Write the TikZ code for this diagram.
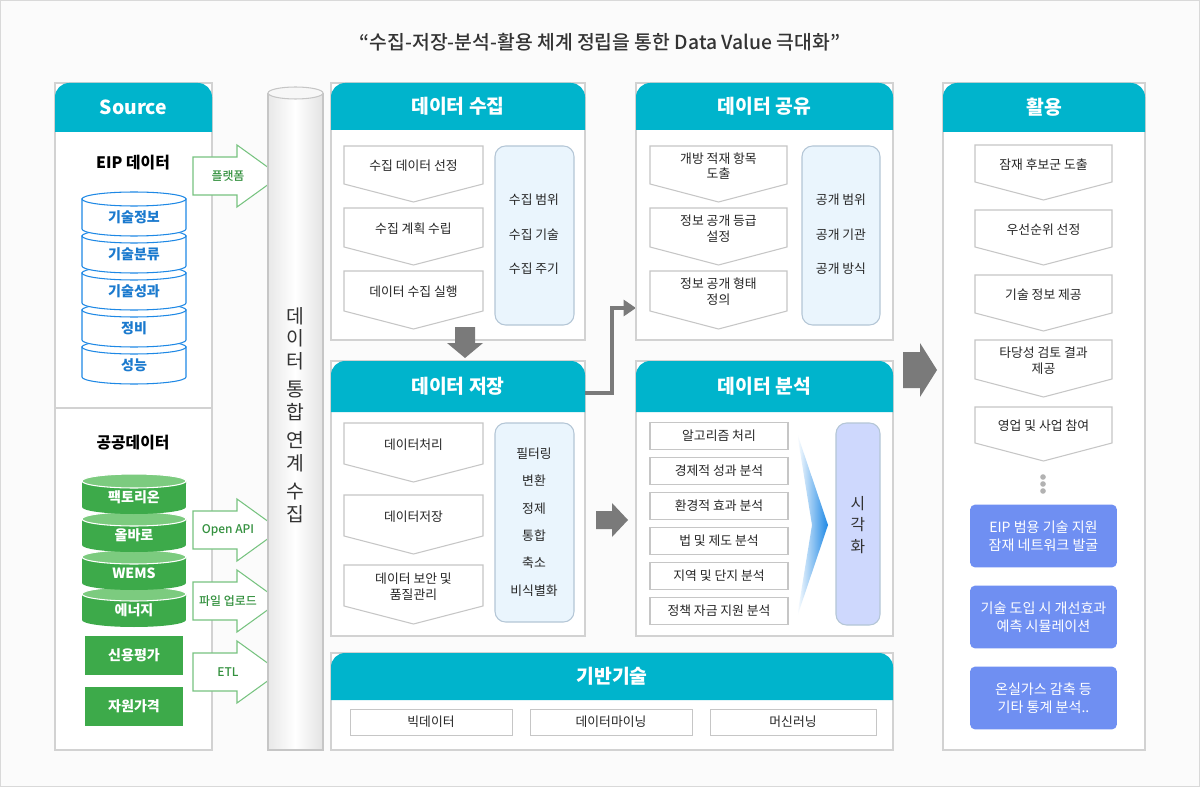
\documentclass[tikz,border=0pt]{standalone}
\usepackage{fontspec}
\setmainfont{Noto Sans CJK KR}
\newfontfamily\medfont{Noto Sans CJK KR Medium}
\usetikzlibrary{positioning,arrows.meta}
\definecolor{teal}{HTML}{00B4CC}
\definecolor{lbox}{HTML}{EAF5FD}
\definecolor{lline}{HTML}{B4C6D6}
\definecolor{cblue}{HTML}{1E88E5}
\definecolor{cgreen}{HTML}{3DAA4A}
\definecolor{lgreen}{HTML}{7CCB7F}
\definecolor{purp}{HTML}{6F8FF2}
\definecolor{dgray}{HTML}{7A7A7A}
\tikzset{
  panel/.style={draw=gray!35, fill=white, line width=0.6pt},
  head/.style={fill=teal},
  headtxt/.style={text=white, font=\fontsize{11}{12}\selectfont\bfseries},
  txt/.style={font=\fontsize{7.3}{9}\selectfont, align=center, text=black!85},
  chevbox/.style={draw=gray!45, fill=white, line width=0.6pt},
  sidebox/.style={draw=lline, fill=lbox, rounded corners=6pt, line width=0.6pt},
  garrow/.style={draw=cgreen!70, fill=white, line width=0.6pt},
}
\newcommand\panelbox[6]{% x1 y1 x2 y2 head-height title
  \draw[panel] (#1,#2) rectangle (#3,#4);
  \fill[head] (#1,#2+#5) [rounded corners=8pt]-- (#1,#2) -- (#3,#2) [sharp corners]-- (#3,#2+#5) -- cycle;
  \node[headtxt] (h-#1-#2) at ({(#1+#3)/2},#2+#5/2) {#6};}
\newcommand\chev[5]{% x1 x2 y1 y2 text
  \draw[chevbox] (#1,#3) -- (#2,#3) -- (#2,#4-18) -- ({(#1+#2)/2},#4) -- (#1,#4-18) -- cycle;
  \node[txt] (c-#1-#3) at ({(#1+#2)/2},{(#3+#4-18)/2+1}) {#5};}
\newcommand\bcyl[2]{% top y, text
  \draw[draw=cblue, fill=white, line width=0.6pt] (82,#1) -- (82,#1+30) arc[start angle=180,end angle=360,x radius=1.04cm,y radius=0.14cm] -- (186,#1) -- cycle;
  \draw[draw=cblue, fill=white, line width=0.6pt] (134,#1) ellipse[x radius=1.04cm,y radius=0.14cm];
  \node[font=\fontsize{8}{9}\selectfont\bfseries, text=cblue!90!black] (b-#1) at (134,#1+18) {#2};}
\newcommand\gcyl[2]{% top y, text
  \fill[cgreen] (82,#1) -- (82,#1+26) arc[start angle=180,end angle=360,x radius=1.04cm,y radius=0.14cm] -- (186,#1) -- cycle;
  \draw[draw=white, fill=lgreen, line width=0.6pt] (134,#1) ellipse[x radius=1.04cm,y radius=0.14cm];
  \node[font=\fontsize{8}{9}\selectfont\bfseries, text=white] (g-#1) at (134,#1+16) {#2};}
\newcommand\inarrow[3]{% x0 yc label
  \draw[garrow] (#1,#2-19) -- (#1+44,#2-19) -- (#1+44,#2-31) -- (#1+87,#2) -- (#1+44,#2+31) -- (#1+44,#2+19) -- (#1,#2+19) -- cycle;
  \node[font=\fontsize{6.8}{8}\selectfont\medfont, text=cgreen!85!black] (a-#2) at (#1+35,#2) {#3};}
\begin{document}
\begin{tikzpicture}[x=0.02cm,y=-0.02cm]
  \useasboundingbox (0,0) rectangle (1200,787);
  \draw[draw=gray!30, fill=gray!3] (0.5,0.5) rectangle (1199.5,786.5);
  \node[font=\fontsize{11}{12}\selectfont\medfont, text=black!80] (title) at (600,42) {“수집-저장-분석-활용 체계 정립을 통한 Data Value 극대화”};

  % source
  \panelbox{55}{83}{212}{750}{49}{Source}
  \draw[gray!35, line width=0.6pt] (55,408) -- (212,408);
  \node[font=\fontsize{9}{10}\selectfont\bfseries] (eip) at (133,163) {EIP 데이터};
  \bcyl{347}{성능}
  \bcyl{310}{정비}
  \bcyl{273}{기술성과}
  \bcyl{236}{기술분류}
  \bcyl{199}{기술정보}
  \node[font=\fontsize{9}{10}\selectfont\bfseries] (pub) at (133,443) {공공데이터};
  \gcyl{594}{에너지}
  \gcyl{557}{WEMS}
  \gcyl{519}{올바로}
  \gcyl{481}{팩토리온}
  \node[fill=cgreen, minimum width=1.96cm, minimum height=0.78cm, text=white, font=\fontsize{8}{9}\selectfont\bfseries] (credit) at (134,655) {신용평가};
  \node[fill=cgreen, minimum width=1.96cm, minimum height=0.78cm, text=white, font=\fontsize{8}{9}\selectfont\bfseries] (price) at (134,706) {자원가격};
  \inarrow{193}{176}{플랫폼}
  \inarrow{193}{530}{Open API}
  \inarrow{193}{601}{파일 업로드}
  \inarrow{193}{672}{ETL}

  % integration pillar
  \shade[left color=gray!18, right color=gray!22, middle color=white] (268,93) rectangle (323,750);
  \draw[gray!45, line width=0.6pt] (268,93) -- (268,750) -- (323,750) -- (323,93);
  \draw[gray!45, fill=gray!6, line width=0.6pt] (295.5,93) ellipse[x radius=0.55cm,y radius=0.12cm];
  \node[font=\fontsize{11}{13}\selectfont, align=center, text=black!80] (pillar) at (295.5,415) {데\\이\\터\\[3pt]통\\합\\[3pt]연\\계\\[3pt]수\\집};

  % collect
  \panelbox{331}{83}{585}{340}{47}{데이터 수집}
  \chev{344}{483}{146}{202}{수집 데이터 선정}
  \chev{344}{483}{208}{265}{수집 계획 수립}
  \chev{344}{483}{271}{329}{데이터 수집 실행}
  \draw[sidebox] (495,146) rectangle (574,325);
  \node[txt] (cs1) at (534,200) {수집 범위};
  \node[txt] (cs2) at (534,235) {수집 기술};
  \node[txt] (cs3) at (534,269) {수집 주기};
  \fill[dgray] (455,327) -- (475,327) -- (475,343) -- (483,343) -- (465,358) -- (447,343) -- (455,343) -- cycle;

  % store
  \panelbox{331}{361}{585}{636}{51}{데이터 저장}
  \chev{344}{483}{423}{482}{데이터처리}
  \chev{344}{483}{495}{554}{데이터저장}
  \chev{344}{483}{565}{624}{데이터 보안 및\\품질관리}
  \draw[sidebox] (495,423) rectangle (574,622);
  \foreach \t [count=\i] in {필터링,변환,정제,통합,축소,비식별화}
    \node[txt] (ss\i) at (534,{426+27.4*\i}) {\t};
  \coordinate (sout) at (585,393);
  \coordinate (shin) at (636,308);
  \draw[dgray, line width=2.5pt, -{Triangle[length=7pt,width=9pt]}] (sout) -- (612,393) |- (shin);
  \fill[dgray] (596,511) -- (612,511) -- (612,503) -- (628,520) -- (612,537) -- (612,529) -- (596,529) -- cycle;

  % share
  \panelbox{636}{83}{893}{340}{47}{데이터 공유}
  \chev{650}{787}{146}{202}{개방 적재 항목\\도출}
  \chev{650}{787}{208}{265}{정보 공개 등급\\설정}
  \chev{650}{787}{271}{329}{정보 공개 형태\\정의}
  \draw[sidebox] (802,146) rectangle (880,325);
  \node[txt] (hs1) at (841,200) {공개 범위};
  \node[txt] (hs2) at (841,235) {공개 기관};
  \node[txt] (hs3) at (841,269) {공개 방식};

  % analysis
  \panelbox{636}{361}{893}{636}{51}{데이터 분석}
  \foreach \t [count=\i] in {알고리즘 처리,경제적 성과 분석,환경적 효과 분석,법 및 제도 분석,지역 및 단지 분석,정책 자금 지원 분석}
    \node[txt, draw=gray!45, fill=white, minimum width=2.76cm, minimum height=0.54cm, line width=0.6pt] (an\i) at (719,{401+35*\i}) {\t};
  \shade[left color=white, right color=cblue] (797,433) -- (828,525) -- (797,617) -- (812,525) -- cycle;
  \draw[draw=lline, fill=blue!12!lbox, rounded corners=6pt, line width=0.6pt] (836,423) rectangle (880,625);
  \node[font=\fontsize{9}{12}\selectfont, align=center, text=black!80] (vis) at (858,525) {시\\각\\화};
  \fill[dgray] (903,352) -- (920,352) -- (920,343) -- (937,370) -- (920,397) -- (920,388) -- (903,388) -- cycle;

  % base technology
  \panelbox{331}{653}{893}{750}{47}{기반기술}
  \node[txt, draw=gray!45, fill=white, minimum width=3.24cm, minimum height=0.52cm] (bt1) at (431,722) {빅데이터};
  \node[txt, draw=gray!45, fill=white, minimum width=3.24cm, minimum height=0.52cm] (bt2) at (611,722) {데이터마이닝};
  \node[txt, draw=gray!45, fill=white, minimum width=3.32cm, minimum height=0.52cm] (bt3) at (793,722) {머신러닝};

  % use
  \panelbox{943}{83}{1145}{750}{49}{활용}
  \chev{975}{1112}{145}{200}{잠재 후보군 도출}
  \chev{975}{1112}{210}{265}{우선순위 선정}
  \chev{975}{1112}{275}{331}{기술 정보 제공}
  \chev{975}{1112}{340}{397}{타당성 검토 결과\\제공}
  \chev{975}{1112}{407}{461}{영업 및 사업 참여}
  \foreach \yy in {477,484,491} \fill[gray!60] (1043,\yy) circle (2.8);
  \foreach \t [count=\i] in {EIP 범용 기술 지원\\잠재 네트워크 발굴,기술 도입 시 개선효과\\예측 시뮬레이션,온실가스 감축 등\\기타 통계 분석..}
    \node[fill=purp, rounded corners=3pt, minimum width=2.94cm, minimum height=1.26cm, text=white, align=center, font=\fontsize{8}{10}\selectfont] (u\i) at (1043.5,{455+81*\i}) {\t};
\end{tikzpicture}
\end{document}
